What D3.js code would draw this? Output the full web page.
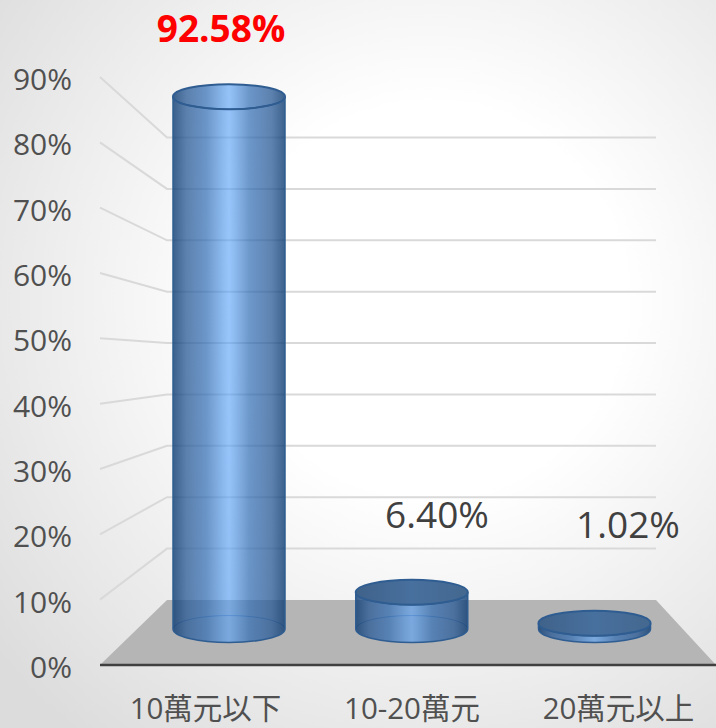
<!DOCTYPE html>
<html>
<head>
<meta charset="utf-8">
<script src="https://cdn.jsdelivr.net/npm/d3@7"></script>
<style>
html, body { margin: 0; padding: 0; background: #fff; }
text { font-family: "Open Sans", "Noto Sans CJK TC", sans-serif; }
</style>
</head>
<body>
<div id="chart"></div>
<script>
const categories = ["10萬元以下", "10-20萬元", "20萬元以上"];
const shares = [92.58, 6.40, 1.02];
const shareLabels = ["92.58%", "6.40%", "1.02%"];
const axisTicks = [0, 10, 20, 30, 40, 50, 60, 70, 80, 90];

const width = 716, height = 728;

const svg = d3.select("#chart").append("svg")
	.attr("width", width)
	.attr("height", height)
	.style("display", "block");

const defs = svg.append("defs");

// page background
const bg = defs.append("radialGradient")
	.attr("id", "bg")
	.attr("gradientUnits", "userSpaceOnUse")
	.attr("cx", 430).attr("cy", 300).attr("r", 560);
bg.append("stop").attr("offset", 0.35).attr("stop-color", "#ffffff");
bg.append("stop").attr("offset", 1).attr("stop-color", "#dcdcdc");

// cylinder shading, see-through with a light stripe in the middle
const bodyGrad = defs.append("linearGradient").attr("id", "body");
[[0, "#0c3a70", 0.8], [0.12, "#285995", 0.75], [0.3, "#2f6cb4", 0.7], [0.5, "#54a0f9", 0.6], [0.68, "#2f6cb4", 0.7], [0.88, "#285995", 0.75], [1, "#0c3a70", 0.8]]
	.forEach(s => bodyGrad.append("stop").attr("offset", s[0]).attr("stop-color", s[1]).attr("stop-opacity", s[2]));

// the short bars show a dark lid
const lidGrad = defs.append("linearGradient").attr("id", "lid");
[[0, "#3f6289"], [0.5, "#48709e"], [1, "#44688f"]]
	.forEach(s => lidGrad.append("stop").attr("offset", s[0]).attr("stop-color", s[1]));

svg.append("rect")
	.attr("width", width).attr("height", height)
	.attr("fill", "url(#bg)");

// scales: the front edge of the floor, the back wall, and the plane the bars stand on
const yFront = d3.scaleLinear().domain([0, 90]).range([665, 77]);
const yBack = d3.scaleLinear().domain([0, 90]).range([600, 137.5]);
const yBar = d3.scaleLinear().domain([0, 100]).range([629, 54]);

const xBar = d3.scalePoint().domain(categories).range([229, 594.5]);
const xLabel = d3.scalePoint().domain(categories).range([205, 618]);

const wallLeft = 167, wallRight = 656, floorLeft = 100, floorRight = 716;
const rx = 56, ryBase = 13.5, ryTop = 12.5;

// gridlines
const grid = d3.line();
svg.append("g").selectAll("path")
	.data(axisTicks.filter(d => d > 0))
	.enter().append("path")
	.attr("d", d => grid([[floorLeft, yFront(d)], [wallLeft, yBack(d)], [wallRight, yBack(d)]]))
	.attr("fill", "none")
	.attr("stroke", "#d9d9d9")
	.attr("stroke-width", 2);

// floor
svg.append("path")
	.attr("d", grid([[wallLeft, yBack(0)], [wallRight, yBack(0)], [floorRight, yFront(0)], [floorLeft, yFront(0)]]) + "Z")
	.attr("fill", "#b5b5b5");

svg.append("path")
	.attr("d", grid([[floorLeft, yFront(0)], [floorRight, yFront(0)]]))
	.attr("stroke", "#404040")
	.attr("stroke-width", 2.5);

// y axis labels
const yAxis = svg.append("g")
	.attr("transform", "translate(75,3)")
	.call(d3.axisLeft(yFront).tickValues(axisTicks).tickSize(0).tickFormat(d => d + "%"));
yAxis.select(".domain").remove();
yAxis.selectAll("text")
	.attr("font-size", 30)
	.attr("fill", "#505050");

// x axis labels
const xAxis = svg.append("g")
	.attr("transform", "translate(0,695)")
	.call(d3.axisBottom(xLabel).tickSize(0));
xAxis.select(".domain").remove();
xAxis.selectAll("text")
	.attr("font-size", 29.5)
	.attr("fill", "#505050");

// cylinders
const bars = svg.append("g").selectAll("g")
	.data(categories.map((c, i) => ({ cat: c, value: shares[i] })))
	.enter().append("g");

// back of the bottom ring
bars.append("path")
	.attr("d", d => {
		const cx = xBar(d.cat), y0 = yBar(0);
		return `M${cx - rx},${y0}A${rx},${ryBase} 0 0 1 ${cx + rx},${y0}`;
	})
	.attr("fill", "none")
	.attr("stroke", "#3a659a")
	.attr("stroke-opacity", 0.6);

bars.append("path")
	.attr("d", d => {
		const cx = xBar(d.cat), y0 = yBar(0), y1 = yBar(d.value);
		return `M${cx - rx},${y1}A${rx},${ryTop} 0 0 0 ${cx + rx},${y1}V${y0}A${rx},${ryBase} 0 0 1 ${cx - rx},${y0}Z`;
	})
	.attr("fill", "url(#body)")
	.attr("stroke", "#2f5d91")
	.attr("stroke-width", 1.5);

bars.append("ellipse")
	.attr("cx", d => xBar(d.cat))
	.attr("cy", d => yBar(d.value))
	.attr("rx", rx)
	.attr("ry", ryTop)
	.attr("fill", d => d.value > 50 ? "url(#body)" : "url(#lid)")
	.attr("stroke", "#2f5d91")
	.attr("stroke-width", 2);

// value labels
const labelX = [221, 437, 628];
const labelY = [29, 515, 525];
svg.append("g").selectAll("text")
	.data(shareLabels)
	.enter().append("text")
	.attr("x", (d, i) => labelX[i])
	.attr("y", (d, i) => labelY[i])
	.attr("dy", "0.35em")
	.attr("text-anchor", "middle")
	.attr("font-size", 37)
	.attr("font-weight", (d, i) => i == 0 ? "bold" : "normal")
	.attr("fill", (d, i) => i == 0 ? "#ff0000" : "#404040")
	.text(d => d);
</script>
</body>
</html>
